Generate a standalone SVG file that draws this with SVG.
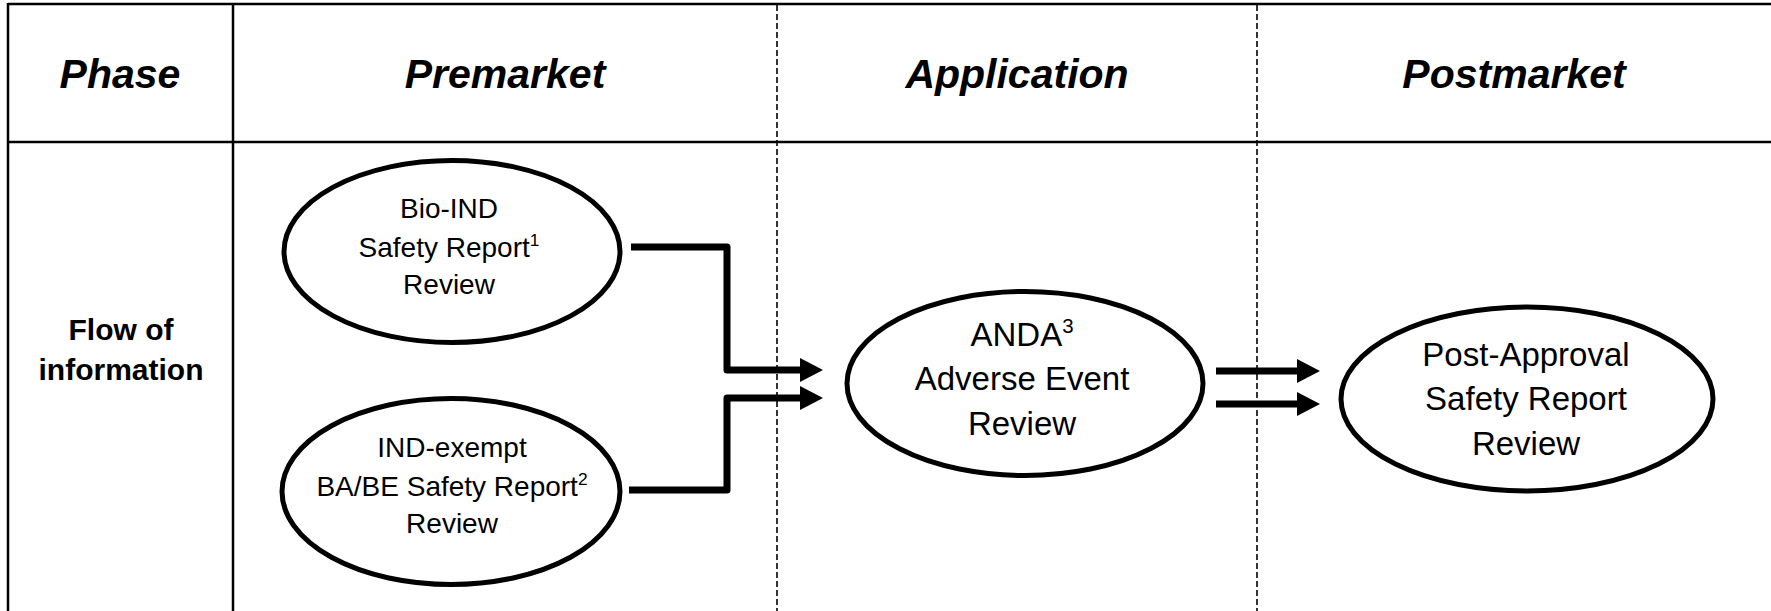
<svg xmlns="http://www.w3.org/2000/svg" width="1771" height="611" viewBox="0 0 1771 611">
<defs>
<style>
.grid{stroke:#000;stroke-width:2.5;fill:none}
.dash{stroke:#000;stroke-width:1.6;stroke-dasharray:6 3;fill:none}
.hdr{font-family:"Liberation Sans",Arial,sans-serif;font-weight:bold;font-style:italic;font-size:41px;text-anchor:middle;fill:#000}
.lbl{font-family:"Liberation Sans",Arial,sans-serif;font-weight:bold;font-size:30px;text-anchor:middle;fill:#000}
.node ellipse{fill:#fff;stroke:#000;stroke-width:5}
.sm{font-family:"Liberation Sans",Arial,sans-serif;font-size:28px;text-anchor:middle;fill:#000}
.lg{font-family:"Liberation Sans",Arial,sans-serif;font-size:33px;text-anchor:middle;fill:#000}
.sup{font-size:0.62em}
.conn{stroke:#000;stroke-width:7;fill:none;stroke-linejoin:round;stroke-linecap:butt}
</style>
<marker id="ah" viewBox="0 0 23 24" refX="0" refY="12" markerWidth="23" markerHeight="24" markerUnits="userSpaceOnUse" orient="auto">
<path d="M0,0 L23,12 L0,24 z" fill="#000"/>
</marker>
</defs>
<rect width="1771" height="611" fill="#fff"/>
<g id="table">
<line class="grid" x1="8" y1="4" x2="1771" y2="4"/>
<line class="grid" x1="8" y1="142" x2="1771" y2="142"/>
<line class="grid" x1="8" y1="3" x2="8" y2="611"/>
<line class="grid" x1="233" y1="3" x2="233" y2="611"/>
<line class="dash" x1="777" y1="5" x2="777" y2="611"/>
<line class="dash" x1="1257" y1="5" x2="1257" y2="611"/>
</g>
<g id="headers">
<text class="hdr" x="120" y="88">Phase</text>
<text class="hdr" x="505" y="88">Premarket</text>
<text class="hdr" x="1017" y="88">Application</text>
<text class="hdr" x="1514" y="88">Postmarket</text>
<text class="lbl" x="121" y="340">Flow of</text>
<text class="lbl" x="121" y="380">information</text>
</g>
<g id="connectors">
<path class="conn" d="M631,247 H727 V370 H800" marker-end="url(#ah)"/>
<path class="conn" d="M629,490 H727 V398 H800" marker-end="url(#ah)"/>
<path class="conn" d="M1216,371 H1297" marker-end="url(#ah)"/>
<path class="conn" d="M1216,404 H1297" marker-end="url(#ah)"/>
</g>
<g id="bio-ind" class="node">
<ellipse cx="452" cy="251.5" rx="168" ry="91"/>
<text class="sm" x="449" y="218">Bio-IND</text>
<text class="sm" x="449" y="257">Safety Report<tspan class="sup" dy="-11">1</tspan></text>
<text class="sm" x="449" y="294">Review</text>
</g>
<g id="ind-exempt" class="node">
<ellipse cx="451" cy="491.5" rx="169" ry="93"/>
<text class="sm" x="452" y="457">IND-exempt</text>
<text class="sm" x="452" y="496">BA/BE Safety Report<tspan class="sup" dy="-11">2</tspan></text>
<text class="sm" x="452" y="533">Review</text>
</g>
<g id="anda" class="node">
<ellipse cx="1025" cy="383.5" rx="178" ry="92"/>
<text class="lg" x="1022" y="346">ANDA<tspan class="sup" dy="-13">3</tspan></text>
<text class="lg" x="1022" y="390">Adverse Event</text>
<text class="lg" x="1022" y="435">Review</text>
</g>
<g id="post-approval" class="node">
<ellipse cx="1527" cy="399" rx="186" ry="92"/>
<text class="lg" x="1526" y="366">Post-Approval</text>
<text class="lg" x="1526" y="410">Safety Report</text>
<text class="lg" x="1526" y="455">Review</text>
</g>
</svg>
